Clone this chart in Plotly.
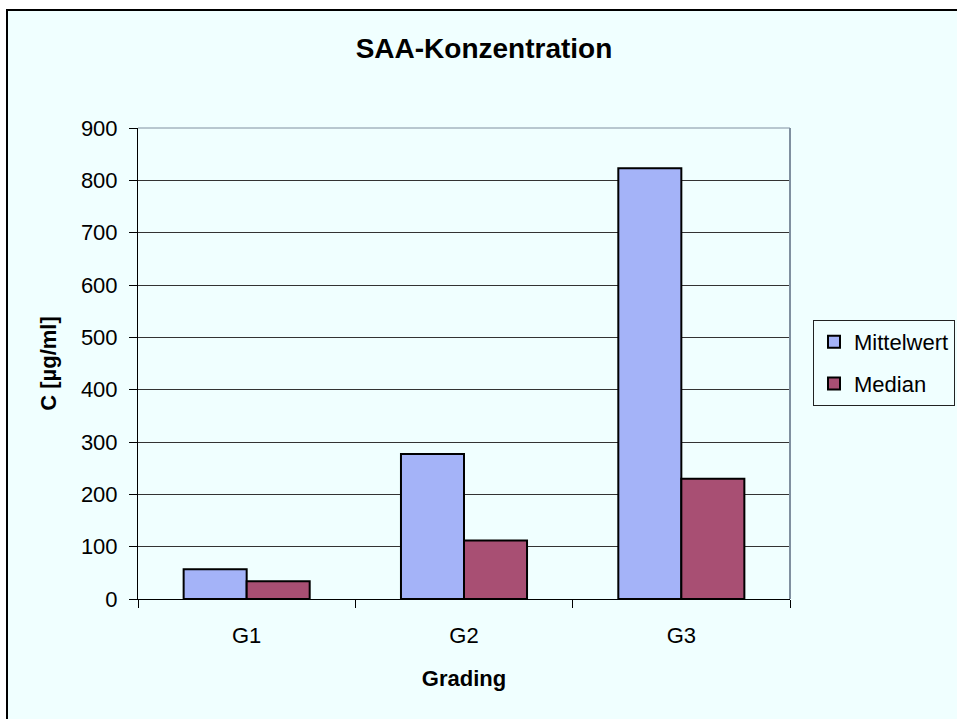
import plotly.graph_objects as go

categories = ["G1", "G2", "G3"]
mittelwert = [57, 277, 823]
median = [34, 112, 230]

W, H = 957, 719
L, R, T, B = 138, 790, 128, 599  # plot area in pixels
pw, ph = R - L, B - T


def px(x):
    return (x - L) / pw


def py(y):
    return (B - y) / ph


fig = go.Figure()
fig.add_trace(go.Bar(x=categories, y=mittelwert, name="Mittelwert", legendgroup="a",
                     marker=dict(color="#A4B3F8", line=dict(color="black", width=2))))
fig.add_trace(go.Bar(x=categories, y=median, name="Median", legendgroup="b",
                     marker=dict(color="#A84F73", line=dict(color="black", width=2))))

fig.update_layout(
    width=W, height=H,
    margin=dict(l=L, r=W - R, t=T, b=H - B, pad=0),
    paper_bgcolor="white",
    plot_bgcolor="#BCCDEB",
    font=dict(family="Liberation Sans, Arial, sans-serif", size=22, color="black"),
    barmode="group",
    bargap=0.42,
    bargroupgap=0,
    title=dict(text="<b>SAA-Konzentration</b>", xref="container", x=484 / W, xanchor="center",
               y=1 - 48 / H, yanchor="middle", font=dict(size=28)),
    legend=dict(xref="container", x=813 / W, y=py(363), xanchor="left", yanchor="middle",
                bgcolor="#F0FFFF", bordercolor="#222222", borderwidth=1,
                font=dict(size=22), tracegroupgap=10),
    shapes=[
        dict(type="rect", xref="paper", yref="paper", layer="below",
             x0=px(7), x1=px(975), y0=py(10), y1=py(735),
             fillcolor="#F0FFFF", line=dict(color="black", width=2)),
        dict(type="line", xref="paper", yref="paper",
             x0=1, x1=1, y0=0, y1=1, line=dict(color="#8090A0", width=2)),
        dict(type="line", xref="paper", yref="paper",
             x0=0, x1=1, y0=1, y1=1, line=dict(color="#8090A0", width=1)),
    ],
)

fig.update_xaxes(
    title=dict(text="<b>Grading</b>", font=dict(size=22), standoff=23),
    showline=True, linecolor="black", linewidth=1,
    ticks="outside", tickson="boundaries", ticklen=8, tickcolor="black",
    ticklabelstandoff=17,
    showgrid=False,
)
fig.update_yaxes(
    title=dict(text="<b>C [µg/ml]</b>", font=dict(size=22), standoff=18),
    range=[0, 900], dtick=100,
    showline=True, linecolor="black", linewidth=1,
    ticks="outside", ticklen=8, tickcolor="black",
    ticklabelstandoff=7,
    showgrid=True, gridcolor="#333333", gridwidth=1,
    zeroline=False,
)

# drop the default 8px page margin so the figure sits at the window origin
fig.write_html("out.html", config={"displayModeBar": False},
               post_script="document.body.style.margin='0';document.body.style.overflow='hidden';")
